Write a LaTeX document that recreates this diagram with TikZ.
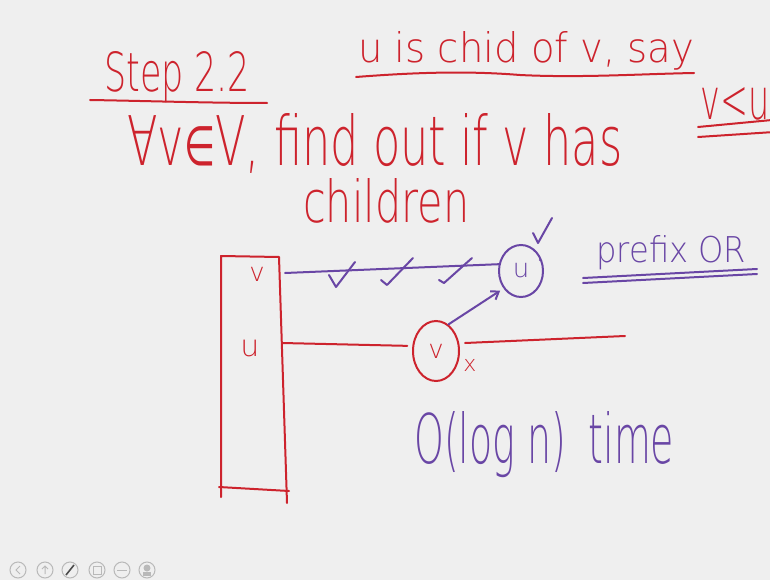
\documentclass[tikz,border=0pt]{standalone}
\usepackage{fontspec}
\setmainfont{DejaVu Sans ExtraLight}
\newfontfamily\symfont{DejaVu Sans}
\usetikzlibrary{shapes.geometric,arrows.meta}
\definecolor{hred}{RGB}{205,35,45}
\definecolor{hpur}{RGB}{105,70,165}
\definecolor{bgc}{RGB}{239,239,239}
\definecolor{iconc}{RGB}{185,185,185}
\newcommand\hwbox[3]{\resizebox{#1pt}{#2pt}{#3}}
\begin{document}
\begin{tikzpicture}[x=1pt,y=-1pt,
  ink/.style={line width=2pt, line cap=round, line join=round},
  redink/.style={ink, draw=hred},
  purink/.style={ink, draw=hpur},
  hw/.style={inner sep=0pt, anchor=base west},
  letter/.style={inner sep=0pt, font=\fontsize{26}{26}\selectfont},
  circ/.style={ellipse, line width=2pt, inner sep=0pt, letter},
  iconring/.style={draw=iconc, line width=1pt},
]
\fill[bgc] (0,0) rectangle (770,580);
\useasboundingbox (0,0) rectangle (770,580);

% headings
\node[hw, text=hred] (step) at (104,92) {\hwbox{146}{40}{Step 2.2}};
\draw[redink] (90,100) .. controls (150,101) and (210,103) .. (267,103);

\node[hw, text=hred] (chid) at (358,63) {\hwbox{336}{31}{u is chid of v, say}};
\draw[redink] (356,77) .. controls (420,72) and (470,71) .. (520,75)
  .. controls (580,78) and (640,74) .. (694,73);

\node[hw, text=hred] (forall) at (127,165) {\hwbox{495}{52}{∀v{\symfont\scalebox{0.8}{∈}}V, find out if v has}};
\node[hw, text=hred] (children) at (303,222) {\hwbox{166}{44}{children}};

\node[hw, text=hred] (vlu) at (700,120) {\hwbox{69}{32}{v<u}};
\draw[redink] (698,127) -- (772,120);
\draw[redink] (698,137) -- (774,132);

% array
\draw[redink] (221,497) -- (221,256) -- (279,257) -- (287,503);
\draw[redink] (219,487) -- (289,491);
\node[letter, text=hred] (lv) at (257,274) {v};
\node[letter, text=hred, font=\fontsize{30}{30}\selectfont] (lu) at (250,348) {u};
\coordinate (rv) at (285,273);
\coordinate (ru) at (282,343);
\coordinate (rstart) at (465,343);
\coordinate (rend) at (625,336);

% purple row
\node[circ, draw=hpur, text=hpur, minimum width=44pt, minimum height=52pt] (cu) at (521,271) {u};
\draw[purink] (rv) -- (cu.163);
\draw[purink] (329,275) -- (336,287) -- (355,262);
\draw[purink] (381,280) -- (387,285) -- (413,258);
\draw[purink] (439,280) -- (444,283) -- (472,258);
\draw[purink] (533,233) -- (538,243) -- (552,218);
\fill[hpur] (540,260) circle (1.2);

\node[hw, text=hpur] (prefix) at (596,262) {\hwbox{150}{27}{prefix OR}};
\draw[purink] (583,278) -- (757,269);
\draw[purink] (583,283) -- (757,274);

% red row
\node[circ, draw=hred, text=hred, minimum width=46pt, minimum height=60pt] (cv) at (436,351) {v};
\draw[redink, shorten >=5pt] (ru) -- (cv.168);
\draw[redink] (rstart) -- (rend);
\node[letter, text=hred, font=\fontsize{22}{22}\selectfont] (xm) at (470,365) {x};
\draw[purink, -{Straight Barb[length=7pt,width=10pt]}, shorten >=4pt] (cv.65) -- (cu.225);

\node[hw, text=hpur] (time) at (414,463) {\hwbox{260}{52}{O(log n)\hspace{0.6em}time}};

% toolbar icons
\foreach \i/\x in {1/18,2/45,3/70,4/97,5/122,6/147}{
  \draw[iconring] (\x,570) circle (8);
}
\draw[iconc, line width=1pt] (20,566) -- (16,570) -- (20,574);
\draw[iconc, line width=1pt] (42,569) -- (45,566) -- (48,569) (45,566) -- (45,574);
\draw[black!70, line width=1.6pt] (66,575) -- (74,565);
\draw[iconc, line width=1pt] (93,566) rectangle (101,574);
\draw[iconc, line width=1pt] (117,570) -- (127,570);
\fill[iconc] (147,568) circle (3.5);
\fill[iconc] (143,572) rectangle (151,576);
\end{tikzpicture}
\end{document}
